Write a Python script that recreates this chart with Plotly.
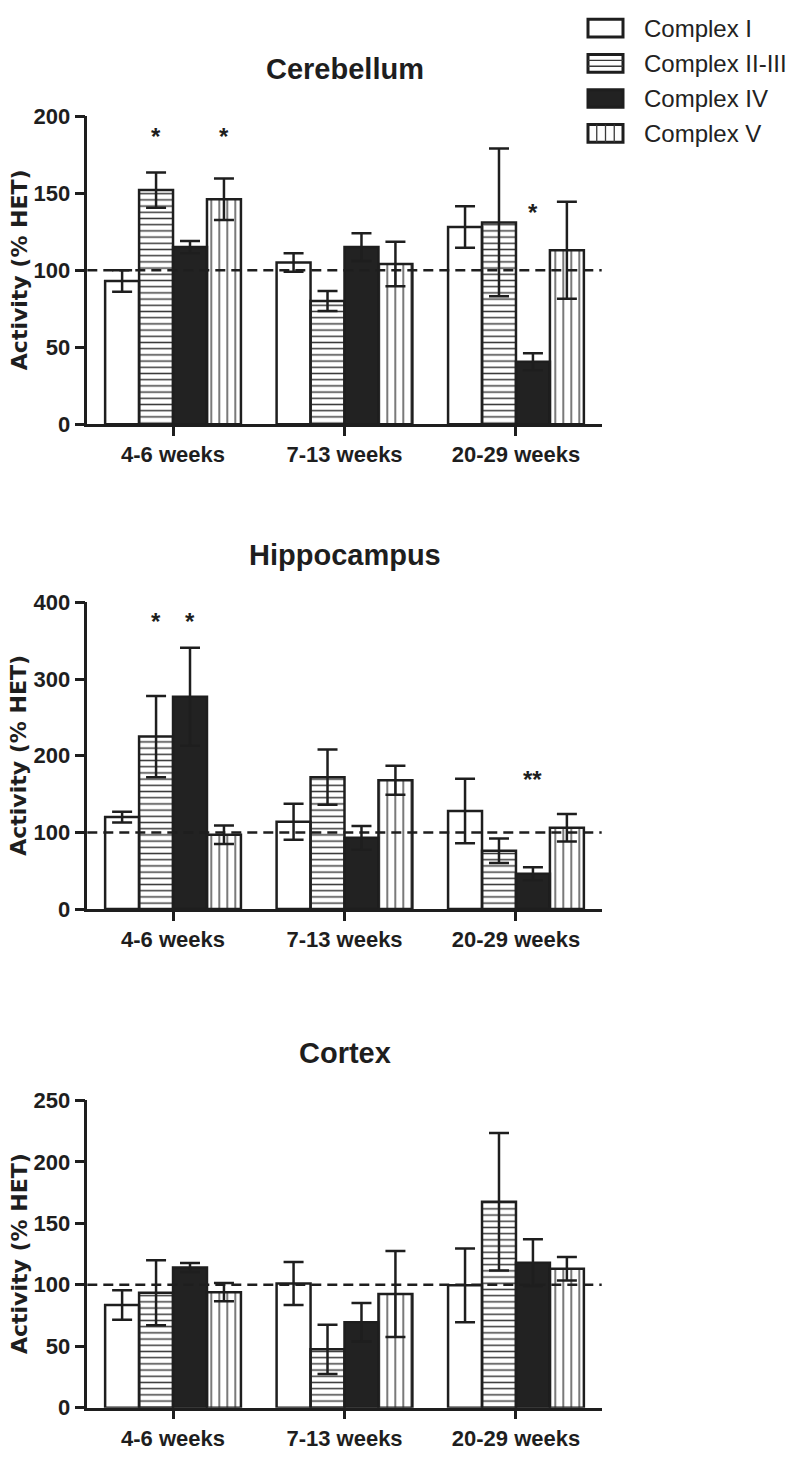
import plotly.graph_objects as go

# ---------------- data ----------------
categories = ["4-6 weeks", "7-13 weeks", "20-29 weeks"]
complexes = ["Complex I", "Complex II-III", "Complex IV", "Complex V"]
regions = ["Cerebellum", "Hippocampus", "Cortex"]

# Cerebellum
cereb_ci = [93, 105, 128]
cereb_ci_err = [7, 6, 13.5]
cereb_cii = [152, 80, 131]
cereb_cii_err = [11.5, 6.5, 48]
cereb_civ = [115, 115, 40.5]
cereb_civ_err = [4, 9, 5.5]
cereb_cv = [146, 104, 113]
cereb_cv_err = [13.5, 14.5, 31.5]

# Hippocampus
hippo_ci = [120, 114, 128]
hippo_ci_err = [7, 23.5, 42]
hippo_cii = [225, 172, 76]
hippo_cii_err = [53, 36, 16]
hippo_civ = [277, 93, 46]
hippo_civ_err = [64, 15.5, 8.5]
hippo_cv = [97, 168, 106]
hippo_cv_err = [12, 19, 18]

# Cortex
cortex_ci = [83.5, 101, 99.5]
cortex_ci_err = [12, 17.5, 30]
cortex_cii = [93.5, 47.5, 167.5]
cortex_cii_err = [26.5, 20, 56]
cortex_civ = [114, 69.5, 118]
cortex_civ_err = [3.7, 15.7, 19]
cortex_cv = [94, 92.5, 113]
cortex_cv_err = [7.5, 35, 9.5]

# significance stars: category index, complex index, y value, label
cereb_star_cat = [0, 0, 2]
cereb_star_cx = [1, 3, 2]
cereb_star_y = [190, 190, 141]
cereb_star_txt = ["*", "*", "*"]
hippo_star_cat = [0, 0, 2]
hippo_star_cx = [1, 2, 2]
hippo_star_y = [382, 382, 176]
hippo_star_txt = ["*", "*", "**"]
cortex_star_cat = []
cortex_star_cx = []
cortex_star_y = []
cortex_star_txt = []

y_max = [200, 400, 250]
y_step = [50, 100, 50]
ref_value = 100
y_title = "Activity (% HET)"

# ---------------- layout helpers ----------------
W, H = 796, 1461
plot_left, plot_right = 87.3, 601.7
tops = [106, 600.7, 1107.3]
bottoms = [419.3, 912.7, 1420]
bargap = 0.208

def px_x(p):
    return p / W

def px_y(p):
    return 1 - p / H

INK = "#1e1e1e"
fills = ["white", "white", "#222222", "white"]
patterns = [
    None,
    dict(shape="-", size=6.2, solidity=0.24, fgcolor="#3a3a3a", fillmode="replace"),
    None,
    dict(shape="|", size=8.0, solidity=0.17, fgcolor="#3a3a3a", fillmode="replace"),
]

region_data = [
    ([cereb_ci, cereb_cii, cereb_civ, cereb_cv],
     [cereb_ci_err, cereb_cii_err, cereb_civ_err, cereb_cv_err],
     (cereb_star_cat, cereb_star_cx, cereb_star_y, cereb_star_txt)),
    ([hippo_ci, hippo_cii, hippo_civ, hippo_cv],
     [hippo_ci_err, hippo_cii_err, hippo_civ_err, hippo_cv_err],
     (hippo_star_cat, hippo_star_cx, hippo_star_y, hippo_star_txt)),
    ([cortex_ci, cortex_cii, cortex_civ, cortex_cv],
     [cortex_ci_err, cortex_cii_err, cortex_civ_err, cortex_cv_err],
     (cortex_star_cat, cortex_star_cx, cortex_star_y, cortex_star_txt)),
]

fig = go.Figure()
annotations = []
shapes = []

cat_px = (plot_right - plot_left) / len(categories)
bar_px = cat_px * (1 - bargap) / len(complexes)

for r, (vals, errs, stars) in enumerate(region_data):
    xa = "x" if r == 0 else f"x{r+1}"
    ya = "y" if r == 0 else f"y{r+1}"
    for c in range(len(complexes)):
        marker = dict(color=fills[c], line=dict(color=INK, width=2.5))
        if patterns[c] is not None:
            marker["pattern"] = patterns[c]
        fig.add_trace(go.Bar(
            x=categories, y=vals[c], name=complexes[c],
            marker=marker, xaxis=xa, yaxis=ya, showlegend=False,
            error_y=dict(type="data", array=errs[c], visible=True,
                         color=INK, thickness=2.5, width=10),
        ))
    # reference line at 100
    shapes.append(dict(type="line", xref=f"{xa} domain", yref=ya,
                       x0=0, x1=1, y0=ref_value, y1=ref_value, layer="above",
                       line=dict(color=INK, width=2.5, dash="10px,6px")))
    # stars
    for ci, cx, sy, st in zip(*stars):
        annotations.append(dict(x=categories[ci], y=sy, xref=xa, yref=ya,
                                text=st, showarrow=False,
                                xshift=(cx - 1.5) * bar_px, yshift=-5,
                                font=dict(family="Liberation Sans, Arial", size=24,
                                          color=INK, weight="bold")))
    # region title
    annotations.append(dict(x=(px_x(plot_left) + px_x(plot_right)) / 2,
                            y=px_y(tops[r] - 48), xref="paper", yref="paper",
                            text=regions[r], showarrow=False,
                            xanchor="center", yanchor="middle",
                            font=dict(family="Liberation Sans, Arial", size=29,
                                      color=INK, weight="bold")))
    # y axis title
    annotations.append(dict(x=px_x(19), y=px_y((tops[r] + bottoms[r]) / 2),
                            xref="paper", yref="paper", text=y_title,
                            textangle=-90, showarrow=False,
                            xanchor="center", yanchor="middle",
                            font=dict(family="DejaVu Sans", size=22, color=INK,
                                      weight="bold")))

    axis_common = dict(showline=True, linecolor=INK, linewidth=2.5, ticks="outside",
                       tickwidth=2.5, tickcolor=INK, showgrid=False, zeroline=False,
                       tickfont=dict(family="Liberation Sans, Arial", size=22,
                                     color=INK, weight="bold"))
    fig.update_layout(**{
        ("xaxis" if r == 0 else f"xaxis{r+1}"): dict(
            domain=[px_x(plot_left), px_x(plot_right)], anchor=ya,
            categoryorder="array", categoryarray=categories,
            range=[-0.5, len(categories) - 0.5], ticklen=9, **axis_common),
        ("yaxis" if r == 0 else f"yaxis{r+1}"): dict(
            domain=[px_y(bottoms[r]), px_y(tops[r])], anchor=xa,
            range=[0, y_max[r]], tickvals=list(range(0, y_max[r] + 1, y_step[r])),
            ticklen=10, **axis_common),
    })

# ---------------- legend (drawn) ----------------
leg_x0, leg_x1 = 588, 623
leg_rows = [16.5, 52.2, 88.0, 123.5]
leg_h = 18
for c, yc in enumerate(leg_rows):
    y0, y1 = yc - leg_h / 2, yc + leg_h / 2
    shapes.append(dict(type="rect", xref="paper", yref="paper",
                       x0=px_x(leg_x0), x1=px_x(leg_x1), y0=px_y(y1), y1=px_y(y0),
                       fillcolor=fills[c], line=dict(color=INK, width=3)))
    if c == 1:
        for k in (1, 2):
            yy = y0 + (y1 - y0) * k / 3
            shapes.append(dict(type="line", xref="paper", yref="paper",
                               x0=px_x(leg_x0), x1=px_x(leg_x1), y0=px_y(yy), y1=px_y(yy),
                               line=dict(color="#3a3a3a", width=1.3)))
    if c == 3:
        for k in (1, 2, 3):
            xx = leg_x0 + (leg_x1 - leg_x0) * k / 4
            shapes.append(dict(type="line", xref="paper", yref="paper",
                               x0=px_x(xx), x1=px_x(xx), y0=px_y(y0), y1=px_y(y1),
                               line=dict(color="#3a3a3a", width=1.3)))
    annotations.append(dict(x=px_x(642), y=px_y(yc), xref="paper", yref="paper",
                            text=complexes[c], showarrow=False,
                            xanchor="left", yanchor="middle",
                            font=dict(family="Liberation Sans, Arial", size=24, color="#222")))

fig.update_layout(
    width=W, height=H, margin=dict(l=0, r=0, t=0, b=0),
    paper_bgcolor="white", plot_bgcolor="white",
    barmode="group", bargap=bargap, bargroupgap=0,
    showlegend=False, annotations=annotations, shapes=shapes,
)

fig.write_html("out.html", config={"displayModeBar": False},
               post_script="document.body.style.margin='0px';")
